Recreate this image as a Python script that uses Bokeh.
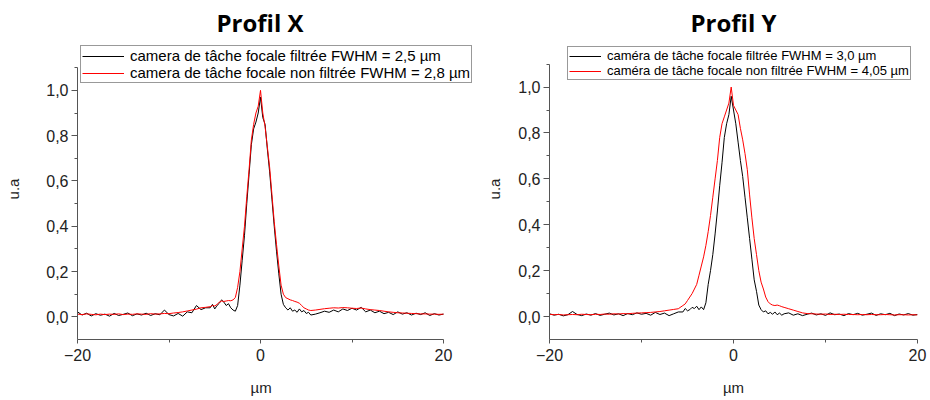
from bokeh.plotting import figure
from bokeh.layouts import row
from bokeh.models import (Legend, LegendItem, FixedTicker, CustomJSTickFormatter, Range1d, Title)
from bokeh.embed import file_html
from bokeh.resources import INLINE

# ---------------- data ----------------
# position in µm (shared by all four profiles)
x_um = [-20, -19.5, -19, -18.5, -18, -17.5, -17, -16.5, -16, -15.5, -15, -14.5, -14, -13.5,
        -13, -12.5, -12, -11.5, -11, -10.5, -10, -9.5, -9, -8.5, -8, -7.5, -7, -6.5, -6,
        -5.5, -5.25, -5, -4.75, -4.5, -4.25, -4, -3.75, -3.5, -3.25, -3, -2.75, -2.5, -2.25,
        -2, -1.75, -1.5, -1.25, -1, -0.75, -0.5, -0.25, 0, 0.25, 0.5, 0.75, 1, 1.25, 1.5,
        1.75, 2, 2.25, 2.5, 2.75, 3, 3.25, 3.5, 3.75, 4, 4.25, 4.5, 4.75, 5, 5.25, 5.5,
        6, 6.5, 7, 7.5, 8, 8.5, 9, 9.5, 10, 10.5, 11, 11.5, 12, 12.5, 13, 13.5, 14, 14.5,
        15, 15.5, 16, 16.5, 17, 17.5, 18, 18.5, 19, 19.5, 20]

# Profil X
x_filtre = [0.022, 0.008, 0.016, 0.004, 0.014, 0.007, 0.012, 0.003, 0.015, 0.006, 0.011, 0.017, 0.005, 0.013,
            0.008, 0.016, 0.006, 0.014, 0.009, 0.030, 0.010, 0.004, 0.015, 0.003, 0.022, 0.018, 0.050, 0.032, 0.040,
            0.040, 0.055, 0.035, 0.050, 0.060, 0.075, 0.065, 0.050, 0.058, 0.040, 0.030, 0.025, 0.050, 0.140,
            0.250, 0.360, 0.500, 0.630, 0.760, 0.830, 0.860, 0.900, 0.970, 0.880, 0.850, 0.740, 0.640, 0.520, 0.400,
            0.290, 0.190, 0.100, 0.055, 0.040, 0.030, 0.040, 0.025, 0.030, 0.020, 0.035, 0.022, 0.028, 0.015, 0.020, 0.008,
            0.012, 0.018, 0.025, 0.020, 0.030, 0.022, 0.035, 0.028, 0.038, 0.030, 0.042, 0.022, 0.030, 0.018, 0.025, 0.014, 0.020, 0.010,
            0.022, 0.012, 0.018, 0.008, 0.016, 0.010, 0.018, 0.006, 0.014, 0.008, 0.012]
x_non_filtre = [0.012, 0.010, 0.013, 0.011, 0.009, 0.012, 0.010, 0.012, 0.011, 0.013, 0.010, 0.012, 0.011, 0.013,
                0.012, 0.011, 0.014, 0.012, 0.013, 0.015, 0.014, 0.017, 0.019, 0.022, 0.026, 0.030, 0.034, 0.040, 0.042,
                0.045, 0.050, 0.048, 0.055, 0.065, 0.070, 0.068, 0.070, 0.072, 0.071, 0.075, 0.085, 0.130, 0.200,
                0.300, 0.400, 0.530, 0.650, 0.780, 0.850, 0.900, 0.930, 1.000, 0.900, 0.840, 0.750, 0.660, 0.540, 0.420,
                0.320, 0.225, 0.140, 0.100, 0.085, 0.080, 0.075, 0.072, 0.068, 0.065, 0.060, 0.050, 0.040, 0.035, 0.030, 0.028,
                0.030, 0.033, 0.036, 0.038, 0.040, 0.039, 0.041, 0.040, 0.038, 0.037, 0.039, 0.035, 0.032, 0.030, 0.028, 0.025, 0.022, 0.020,
                0.018, 0.017, 0.016, 0.015, 0.014, 0.013, 0.013, 0.012, 0.012, 0.011, 0.012]

# Profil Y
y_filtre = [0.012, 0.006, 0.010, 0.003, 0.008, 0.022, 0.009, 0.004, 0.011, 0.006, 0.013, 0.005, 0.010, 0.015,
            0.007, 0.012, 0.004, 0.013, 0.008, 0.016, 0.010, 0.014, 0.006, 0.018, 0.009, 0.015, 0.004, 0.012, 0.020,
            0.020, 0.035, 0.025, 0.030, 0.040, 0.035, 0.045, 0.030, 0.042, 0.030, 0.060, 0.140, 0.200, 0.270,
            0.360, 0.460, 0.570, 0.670, 0.780, 0.840, 0.880, 0.960, 0.900, 0.840, 0.760, 0.680, 0.610, 0.520, 0.430,
            0.340, 0.250, 0.160, 0.110, 0.050, 0.030, 0.020, 0.025, 0.012, 0.018, 0.010, 0.020, 0.008, 0.015, 0.006, 0.012,
            0.016, 0.006, 0.012, 0.004, 0.010, 0.015, 0.007, 0.012, 0.005, 0.016, 0.008, 0.011, 0.004, 0.013, 0.008, 0.014,
            0.006, 0.010, 0.015, 0.005, 0.012, 0.008, 0.014, 0.004, 0.011, 0.007, 0.013, 0.006, 0.009]
y_non_filtre = [0.010, 0.008, 0.009, 0.007, 0.008, 0.009, 0.008, 0.010, 0.009, 0.008, 0.010, 0.009, 0.011, 0.010,
                0.012, 0.011, 0.013, 0.012, 0.014, 0.015, 0.016, 0.017, 0.018, 0.020, 0.022, 0.025, 0.028, 0.031, 0.034,
                0.048, 0.055, 0.070, 0.085, 0.100, 0.120, 0.140, 0.180, 0.220, 0.260, 0.310, 0.370, 0.440, 0.520,
                0.600, 0.680, 0.780, 0.840, 0.870, 0.900, 0.930, 1.000, 0.920, 0.900, 0.880, 0.820, 0.770, 0.710, 0.640,
                0.530, 0.430, 0.340, 0.270, 0.200, 0.150, 0.120, 0.085, 0.065, 0.055, 0.050, 0.048, 0.050, 0.047, 0.043, 0.040,
                0.034, 0.028, 0.022, 0.016, 0.013, 0.012, 0.011, 0.010, 0.011, 0.009, 0.010, 0.009, 0.010, 0.009, 0.009, 0.008,
                0.009, 0.008, 0.009, 0.008, 0.008, 0.009, 0.008, 0.007, 0.008, 0.008, 0.007, 0.008, 0.007]

titles = ["Profil X", "Profil Y"]
legend_x = ["camera de tâche focale filtrée FWHM = 2,5 µm",
            "camera de tâche focale non filtrée FWHM = 2,8 µm"]
legend_y = ["caméra de tâche focale filtrée FWHM = 3,0 µm",
            "caméra de tâche focale non filtrée FWHM = 4,05 µm"]
x_label = "µm"
y_label = "u.a"
x_ticks = [-20, 0, 20]
x_minor = [-10, 10]
y_ticks = [0.0, 0.2, 0.4, 0.6, 0.8, 1.0]
y_minor = [0.1, 0.3, 0.5, 0.7, 0.9, 1.1]

FONT = "Liberation Sans"
AXIS_COLOR = "#555555"
HEIGHT = 398
TOP = 38


def make_fig(title, yb, yr, labels, width, mb_left, mb_right, frame_bottom, x_end, px_per_unit,
             leg_loc, leg_font, leg_glyph_w, title_align, title_offset, xlabel_align, xlabel_offset,
             ylabel_standoff):
    y_end = -0.1 + (frame_bottom - TOP) / px_per_unit
    p = figure(width=width, height=HEIGHT, output_backend="svg", toolbar_location=None,
               x_range=Range1d(-20, x_end), y_range=Range1d(-0.1, y_end),
               min_border_left=mb_left, min_border_right=mb_right,
               min_border_top=TOP, min_border_bottom=HEIGHT - frame_bottom)
    p.title.text = title
    p.title.text_font = "Open Sans"
    p.title.text_font_style = "bold"
    p.title.text_font_size = "24px"
    p.title.text_color = "black"
    p.title.align = title_align
    p.title.offset = title_offset
    p.title.standoff = 0
    p.outline_line_color = None
    p.grid.visible = False

    rb = p.line(x_um, yb, line_color="black", line_width=1)
    rr = p.line(x_um, yr, line_color="#ff0000", line_width=1)

    p.xaxis.ticker = FixedTicker(ticks=x_ticks, minor_ticks=x_minor)
    p.yaxis.ticker = FixedTicker(ticks=y_ticks, minor_ticks=y_minor)
    p.xaxis.bounds = (-20, 20)
    p.yaxis.bounds = (-0.1, 1.1)
    p.yaxis.formatter = CustomJSTickFormatter(code="return tick.toFixed(1).replace('.', ',');")

    for ax in (p.xaxis[0], p.yaxis[0]):
        ax.axis_line_color = AXIS_COLOR
        ax.major_tick_line_color = AXIS_COLOR
        ax.minor_tick_line_color = AXIS_COLOR
        ax.major_tick_in = 0
        ax.minor_tick_in = 0
        ax.major_label_text_font = FONT
        ax.major_label_text_font_size = "16px"
        ax.major_label_text_color = "#222222"
        ax.axis_label_text_font = FONT
        ax.axis_label_text_font_size = "15px"
        ax.axis_label_text_font_style = "normal"
        ax.axis_label_text_color = "#222222"
    p.xaxis.major_label_standoff = 5
    p.yaxis.major_label_standoff = 3
    p.xaxis.major_tick_out = 4
    p.xaxis.minor_tick_out = 3
    p.yaxis.major_tick_out = 6
    p.yaxis.minor_tick_out = 3
    p.yaxis.axis_label = y_label
    p.yaxis.axis_label_standoff = ylabel_standoff

    # x-axis label as a title below the axis so it can sit under x = 0;
    # a blank spacer title sets its distance from the tick labels
    p.add_layout(Title(text=" ", standoff=0, text_font=FONT, text_font_size="10px"), "below")
    p.add_layout(Title(text=x_label, align=xlabel_align, offset=xlabel_offset, standoff=0,
                       text_font=FONT, text_font_size="15px", text_font_style="normal",
                       text_color="#222222"), "below")

    leg = Legend(items=[LegendItem(label=labels[0], renderers=[rb]),
                        LegendItem(label=labels[1], renderers=[rr])],
                 location=leg_loc, padding=1, spacing=0, margin=0,
                 glyph_width=leg_glyph_w, glyph_height=14, label_height=14,
                 label_standoff=6, label_text_font=FONT,
                 label_text_font_size=leg_font, label_text_color="black",
                 border_line_color="#333333", border_line_width=1,
                 background_fill_color="white", background_fill_alpha=1.0)
    p.add_layout(leg)
    return p


# left panel: frame widened to the right so the legend is not clipped; the x axis stays -20..20
p1 = make_fig(titles[0], x_filtre, x_non_filtre, legend_x, width=481, mb_left=77, mb_right=0,
              frame_bottom=341, x_end=-20 + 404 / 9.15, px_per_unit=228.0,
              leg_loc=(3, 256), leg_font="15px", leg_glyph_w=42,
              title_align="left", title_offset=139, xlabel_align="left", xlabel_offset=173,
              ylabel_standoff=21)
p2 = make_fig(titles[1], y_filtre, y_non_filtre, legend_y, width=447, mb_left=68, mb_right=11,
              frame_bottom=339, x_end=20, px_per_unit=229.5,
              leg_loc=(18, 259), leg_font="13px", leg_glyph_w=32,
              title_align="center", title_offset=0, xlabel_align="center", xlabel_offset=0,
              ylabel_standoff=12)

layout = row(p1, p2)
open("out.html", "w").write(file_html(layout, INLINE))
